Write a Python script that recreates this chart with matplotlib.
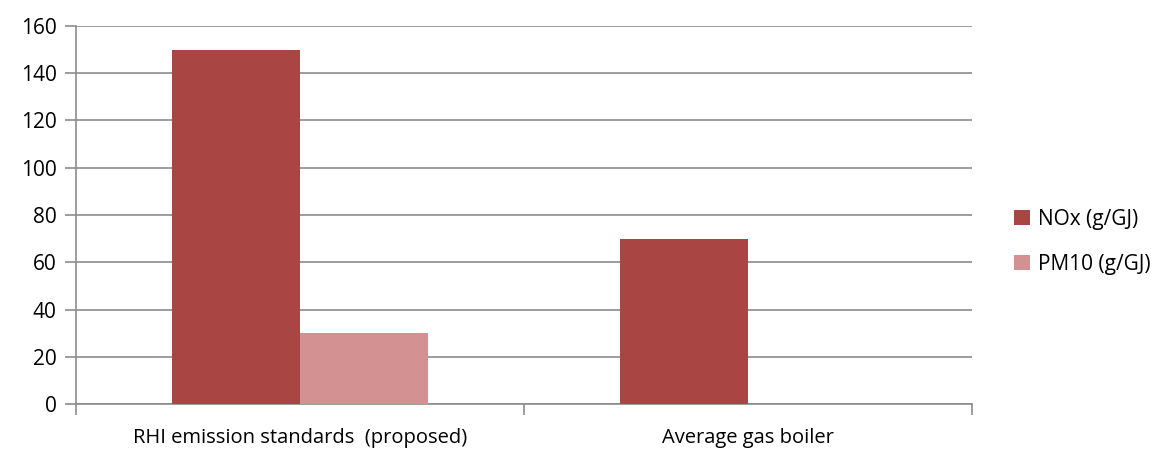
import numpy as np
import matplotlib
matplotlib.use('Agg')
import matplotlib.pyplot as plt

categories = ['RHI emission standards  (proposed)', 'Average gas boiler']
nox = [150, 70]
pm10 = [30, 0]
series_names = ['NOx (g/GJ)', 'PM10 (g/GJ)']
yticks = [0, 20, 40, 60, 80, 100, 120, 140, 160]

c_nox = '#A94644'
c_pm = '#D39291'
grid_c = '#8C8C8C'

plt.rcParams['font.family'] = ['Open Sans', 'DejaVu Sans']

fig = plt.figure(figsize=(11.7, 4.5), dpi=100)
ax = fig.add_axes([76/1170, 1 - 404/450, (972-76)/1170, (404-26)/450])

x = np.arange(len(categories))
w = 0.286
ax.bar(x - w/2, nox, w, color=c_nox, label=series_names[0], zorder=3)
ax.bar(x + w/2, pm10, w, color=c_pm, label=series_names[1], zorder=3)

ax.set_xlim(-0.5, len(categories) - 0.5)
ax.set_ylim(0, 160)
ax.set_yticks(yticks)
ax.set_yticklabels([str(v) for v in yticks], fontsize=15)
ax.yaxis.grid(True, color=grid_c, linewidth=1.2, zorder=0)

# category boundaries carry the tick marks, labels sit at the centres
ax.set_xticks(np.arange(len(categories) + 1) - 0.5)
ax.set_xticklabels([])
ax.set_xticks(x, minor=True)
ax.set_xticklabels(categories, minor=True, fontsize=14.5)
ax.tick_params(axis='x', which='minor', length=0, pad=17)
ax.tick_params(axis='x', which='major', length=8, color=grid_c, width=1.2)
ax.tick_params(axis='y', length=8, color=grid_c, width=1.2, pad=6)

for s in ['top', 'right']:
    ax.spines[s].set_visible(False)
for s in ['left', 'bottom']:
    ax.spines[s].set_color(grid_c)
    ax.spines[s].set_linewidth(1.2)

fig.legend(*ax.get_legend_handles_labels(), loc='center left',
           bbox_to_anchor=(1014/1170, 1 - 242/450), frameon=False,
           fontsize=15, handlelength=0.75, handleheight=0.75, handletextpad=0.4,
           labelspacing=1.15, borderpad=0, borderaxespad=0)

fig.savefig('out.png', dpi=100)
